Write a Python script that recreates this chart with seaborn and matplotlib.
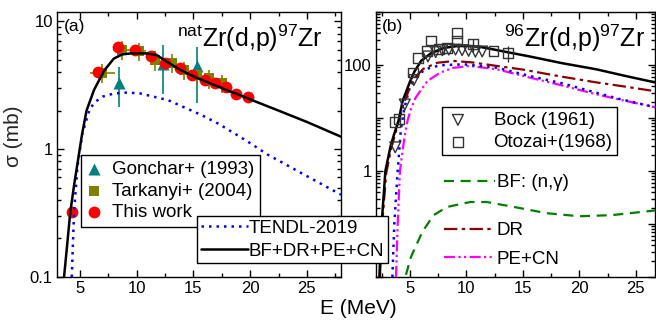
import matplotlib
matplotlib.use("Agg")
import matplotlib.pyplot as plt
from matplotlib.ticker import FixedLocator, FixedFormatter, LogLocator, NullFormatter, MultipleLocator
import seaborn as sns

# ---------------- (a) natZr(d,p)97Zr ----------------
gon_e = [8.45, 12.3, 15.3]
gon_s = [3.3, 4.6, 4.45]
gon_lo = [2.15, 2.72, 2.3]
gon_hi = [4.35, 6.5, 6.3]

tar_e = [6.98, 8.75, 10.2, 11.6, 13.1, 14.2, 15.3, 16.4, 17.5]
tar_s = [3.95, 5.95, 5.8, 4.95, 4.7, 4.14, 3.8, 3.57, 3.28]
tar_de = [1.1, 0.8, 0.6, 0.5, 0.45, 0.45, 0.45, 0.45, 0.45]
tar_ds = [0.65, 1.0, 0.95, 0.85, 0.8, 0.7, 0.65, 0.6, 0.55]

tw_e = [4.35, 6.6, 8.35, 9.9, 11.3, 12.5, 13.8, 14.9, 16.0, 16.9, 17.9, 18.8, 19.8]
tw_s = [0.32, 4.0, 6.3, 5.95, 5.3, 4.72, 4.27, 3.78, 3.46, 3.26, 3.07, 2.68, 2.55]
tw_de = [0.5, 0.3, 0.3, 0.3, 0.3, 0.3, 0.3, 0.3, 0.3, 0.3, 0.3, 0.3, 0.3]

tendl_a_e = [4.3, 4.5, 4.8, 5.24, 5.9, 6.4, 7.0, 8.0, 9.2, 10.35, 11.5, 12.8, 14.2,
             15.7, 17.2, 18.6, 20.1, 21.5, 23.0, 24.5, 26.0, 28.0]
tendl_a_s = [0.1, 0.32, 0.73, 1.33, 2.08, 2.35, 2.57, 2.72, 2.77, 2.72, 2.57, 2.41, 2.12,
             1.85, 1.58, 1.33, 1.1, 0.91, 0.77, 0.65, 0.55, 0.44]

tot_a_e = [3.62, 3.9, 4.15, 4.5, 4.85, 5.2, 5.6, 6.26, 7.14, 8.0, 8.74, 9.5, 10.9,
           11.8, 12.7, 13.9, 15.1, 16.5, 17.95, 19.1, 20.5, 22.5, 25.0, 28.0]
tot_a_s = [0.1, 0.18, 0.31, 0.52, 0.82, 1.3, 2.0, 2.9, 4.1, 5.1, 5.5, 5.6, 5.6,
           5.42, 4.8, 4.14, 3.67, 3.26, 2.89, 2.64, 2.35, 2.0, 1.63, 1.25]

# ---------------- (b) 96Zr(d,p)97Zr ----------------
bock_e = [3.7, 4.55, 5.35, 6.6, 7.28, 7.87, 8.45, 9.04, 9.62, 10.2, 10.8, 11.4]
bock_s = [2.8, 18, 52, 145, 175, 190, 195, 195, 190, 185, 178, 180]

oto_e = [3.68, 4.06, 5.24, 5.73, 6.5, 6.85, 7.6, 8.3, 9.2, 9.2, 10.6, 12.4, 13.7]
oto_s = [8.3, 9.6, 72, 137, 185, 290, 200, 210, 400, 290, 245, 183, 170]
oto_ds = [0, 0, 0, 0, 0, 0, 0, 0, 0, 0, 70, 0, 55]

tot_b_e = [2.3, 2.5, 2.83, 3.3, 3.6, 4.0, 4.36, 5.0, 5.4, 6.0, 6.84, 8.0, 9.2,
           10.2, 11.2, 12.5, 13.6, 15.6, 18.5, 21.5, 24.1, 26.7]
tot_b_s = [0.01, 0.1, 1.0, 3.0, 4.9, 9.0, 21, 48, 75, 120, 165, 210, 228,
           228, 220, 195, 175, 145, 108, 83, 62, 47]

dr_e = [2.35, 2.55, 2.9, 3.35, 3.7, 4.0, 4.4, 5.0, 5.5, 6.2, 7.4, 8.9, 10.5,
        12.7, 15.0, 18.5, 21.5, 24.1, 26.7]
dr_s = [0.01, 0.1, 0.9, 2.7, 5.0, 8.5, 17, 38, 60, 85, 110, 119, 112,
        96, 82, 60, 47, 39, 32]

tendl_b_e = [3.45, 3.62, 3.78, 3.92, 4.05, 4.2, 4.5, 4.94, 5.4, 5.8, 6.5, 7.7, 9.8,
             12.7, 15.6, 18.5, 21.5, 23.5, 26.7]
tendl_b_s = [0.01, 0.1, 0.35, 1.0, 2.3, 6.0, 15, 35, 54, 68, 85, 99, 103,
             89, 62, 45, 30, 23, 16]

pecn_e = [3.77, 3.92, 4.12, 4.36, 4.6, 4.8, 5.1, 5.5, 6.55, 7.7, 8.8, 10.3, 12.7,
          15.6, 18.5, 21.5, 24.1, 26.7]
pecn_s = [0.01, 0.1, 1.0, 2.5, 5.5, 9.0, 15, 24, 50, 72, 88, 96, 83,
          58, 41, 28, 21, 16]

bf_e = [4.65, 5.1, 6.1, 7.1, 8.3, 10.35, 11.8, 14.2, 17.1, 20.0, 22.9, 26.7]
bf_s = [0.011, 0.024, 0.071, 0.147, 0.21, 0.26, 0.26, 0.21, 0.16, 0.14, 0.147, 0.18]

# ---------------- style ----------------
sns.set_theme(style="ticks")
plt.rcParams.update({
    "font.family": ["Liberation Sans", "DejaVu Sans"],
    "mathtext.fontset": "custom",
    "mathtext.rm": "Liberation Sans",
    "mathtext.it": "Liberation Sans:italic",
    "mathtext.bf": "Liberation Sans:bold",
    "axes.linewidth": 1.0,
    "axes.edgecolor": "black",
    "xtick.color": "black",
    "ytick.color": "black",
    "text.color": "black",
})

W, H = 656, 322
fig = plt.figure(figsize=(W / 100, H / 100), dpi=100)


def box(x0, y0, x1, y1):
    return [x0 / W, 1 - y1 / H, (x1 - x0) / W, (y1 - y0) / H]


ax_a = fig.add_axes(box(57, 12, 341, 277))
ax_b = fig.add_axes(box(376, 12, 655, 277))

C_TEAL = "#008080"
C_OLIVE = "#808000"
C_RED = "#ff0000"
C_BLUE = "#0000ff"
C_DR = "#8b0000"
C_MAG = "#ff00ff"
C_GREEN = "#008000"

DOT = (0, (1, 2.0))

# ---- panel (a) ----
ax = ax_a
ax.errorbar(gon_e, gon_s,
            yerr=[[s - l for s, l in zip(gon_s, gon_lo)], [h - s for s, h in zip(gon_s, gon_hi)]],
            fmt="none", ecolor=C_TEAL, elinewidth=1.2, capsize=0, zorder=2)
ax.errorbar(tar_e, tar_s, xerr=tar_de, yerr=tar_ds,
            fmt="none", ecolor=C_OLIVE, elinewidth=1.2, capsize=0, zorder=2)
ax.errorbar(tw_e, tw_s, xerr=tw_de,
            fmt="none", ecolor=C_RED, elinewidth=1.2, capsize=0, zorder=2)
sns.scatterplot(x=gon_e, y=gon_s, marker="^", s=75, color=C_TEAL, edgecolor=C_TEAL,
                linewidth=0, ax=ax, zorder=3, legend=False)
h_gon = ax.collections[-1]
sns.scatterplot(x=tar_e, y=tar_s, marker="s", s=48, color=C_OLIVE, edgecolor=C_OLIVE,
                linewidth=0, ax=ax, zorder=3, legend=False)
h_tar = ax.collections[-1]
sns.scatterplot(x=tw_e, y=tw_s, marker="o", s=72, color=C_RED, edgecolor=C_RED,
                linewidth=0, ax=ax, zorder=4, legend=False)
h_tw = ax.collections[-1]

sns.lineplot(x=tendl_a_e, y=tendl_a_s, color=C_BLUE, lw=1.8, linestyle=DOT,
             estimator=None, sort=False, ax=ax, zorder=5)
h_tendl = ax.lines[-1]
sns.lineplot(x=tot_a_e, y=tot_a_s, color="black", lw=1.8,
             estimator=None, sort=False, ax=ax, zorder=6)
h_tot = ax.lines[-1]

ax.set_yscale("log")
ax.set_xlim(3, 28)
ax.set_ylim(0.1, 11.8)
ax.yaxis.set_major_locator(FixedLocator([0.1, 1, 10]))
ax.yaxis.set_major_formatter(FixedFormatter(["0.1", "1", "10"]))
ax.yaxis.set_minor_locator(LogLocator(base=10, subs=range(2, 10)))
ax.yaxis.set_minor_formatter(NullFormatter())
ax.text(0.025, 0.945, "(a)", transform=ax.transAxes, fontsize=12.5, va="center", ha="left")
ax.text(0.937, 0.869, r"$^{\mathrm{nat}}$Zr(d,p)$^{97}$Zr", transform=ax.transAxes,
        fontsize=18, va="baseline", ha="right")

# ---- panel (b) ----
ax = ax_b
sns.lineplot(x=bf_e, y=bf_s, color=C_GREEN, lw=1.6, linestyle=(0, (4.5, 3)),
             estimator=None, sort=False, ax=ax, zorder=3)
h_bf = ax.lines[-1]
sns.lineplot(x=pecn_e, y=pecn_s, color=C_MAG, lw=1.6,
             linestyle=(0, (5, 1.5, 1, 1.5, 1, 1.5)),
             estimator=None, sort=False, ax=ax, zorder=3)
h_pecn = ax.lines[-1]
sns.lineplot(x=tendl_b_e, y=tendl_b_s, color=C_BLUE, lw=1.8, linestyle=DOT,
             estimator=None, sort=False, ax=ax, zorder=4)
sns.lineplot(x=dr_e, y=dr_s, color=C_DR, lw=1.6, linestyle=(0, (6, 2, 1.5, 2)),
             estimator=None, sort=False, ax=ax, zorder=4)
h_dr = ax.lines[-1]
sns.lineplot(x=tot_b_e, y=tot_b_s, color="black", lw=1.8,
             estimator=None, sort=False, ax=ax, zorder=5)

ax.errorbar(oto_e, oto_s, yerr=oto_ds, fmt="none", ecolor="#333333",
            elinewidth=1.0, capsize=0, zorder=6)
sns.scatterplot(x=oto_e, y=oto_s, marker="s", s=50, facecolor="none", edgecolor="#333333",
                linewidth=1.0, ax=ax, zorder=7, legend=False)
h_oto = ax.collections[-1]
sns.scatterplot(x=bock_e, y=bock_s, marker="v", s=60, facecolor="none", edgecolor="#333333",
                linewidth=1.0, ax=ax, zorder=7, legend=False)
h_bock = ax.collections[-1]

ax.set_yscale("log")
ax.set_xlim(2, 26.7)
ax.set_ylim(0.01, 1000)
ax.yaxis.set_major_locator(FixedLocator([0.01, 0.1, 1, 10, 100, 1000]))
ax.yaxis.set_major_formatter(FixedFormatter(["", "", "1", "", "100", ""]))
ax.yaxis.set_minor_locator(LogLocator(base=10, subs=range(2, 10)))
ax.yaxis.set_minor_formatter(NullFormatter())
ax.text(0.0215, 0.945, "(b)", transform=ax.transAxes, fontsize=12.5, va="center", ha="left")
ax.text(0.964, 0.869, r"$^{96}$Zr(d,p)$^{97}$Zr", transform=ax.transAxes,
        fontsize=18, va="baseline", ha="right")

for ax in (ax_a, ax_b):
    ax.xaxis.set_major_locator(MultipleLocator(5))
    ax.xaxis.set_minor_locator(MultipleLocator(2.5))
    ax.tick_params(which="both", direction="in", top=True, right=True,
                   labelsize=12, width=1.0, pad=3)
    ax.tick_params(which="major", length=5)
    ax.tick_params(which="minor", length=3)
    ax.set_xlabel("")
    ax.set_ylabel("")
    if ax.get_legend() is not None:
        ax.get_legend().remove()

ax_a.set_ylabel("σ (mb)", fontsize=15)
ax_a.yaxis.set_label_coords(-0.118, 0.53)
fig.text(358 / W, 1 - 308 / H, "E (MeV)", fontsize=15, ha="center", va="center")

# ---- legends ----
leg_kw = dict(frameon=True, fancybox=False, edgecolor="black", framealpha=1,
              borderaxespad=0, fontsize=13.5, loc="upper left")

leg1 = fig.legend(handles=[h_gon, h_tar, h_tw],
                  labels=["Gonchar+ (1993)", "Tarkanyi+ (2004)", "This work"],
                  bbox_to_anchor=(81 / W, 1 - 155 / H), handlelength=0.8,
                  handletextpad=0.55, labelspacing=0.25, borderpad=0.3, **leg_kw)
leg1.get_frame().set_linewidth(1.0)
leg2 = fig.legend(handles=[h_tendl, h_tot],
                  labels=["TENDL-2019", "BF+DR+PE+CN"],
                  bbox_to_anchor=(197 / W, 1 - 216 / H), handlelength=2.5,
                  handletextpad=0.05, labelspacing=0.3, borderpad=0.2, **leg_kw)
leg2.get_frame().set_linewidth(1.0)
leg3 = fig.legend(handles=[h_bock, h_oto],
                  labels=["Bock (1961)", "Otozai+(1968)"],
                  bbox_to_anchor=(442 / W, 1 - 107 / H), handlelength=1.2,
                  handletextpad=1.3, labelspacing=0.25, borderpad=0.25, **leg_kw)
leg3.get_frame().set_linewidth(1.0)

line_kw = dict(frameon=False, borderaxespad=0, fontsize=13.5, loc="upper left",
               handlelength=2.7, handletextpad=0.1, borderpad=0)
leg4 = fig.legend(handles=[h_bf], labels=["BF: (n,γ)"],
                  bbox_to_anchor=(444 / W, 1 - 174 / H), labelspacing=0.2, **line_kw)
leg5 = fig.legend(handles=[h_dr, h_pecn], labels=["DR", "PE+CN"],
                  bbox_to_anchor=(444 / W, 1 - 222 / H), labelspacing=0.6, **line_kw)

fig.savefig("out.png", dpi=100)
